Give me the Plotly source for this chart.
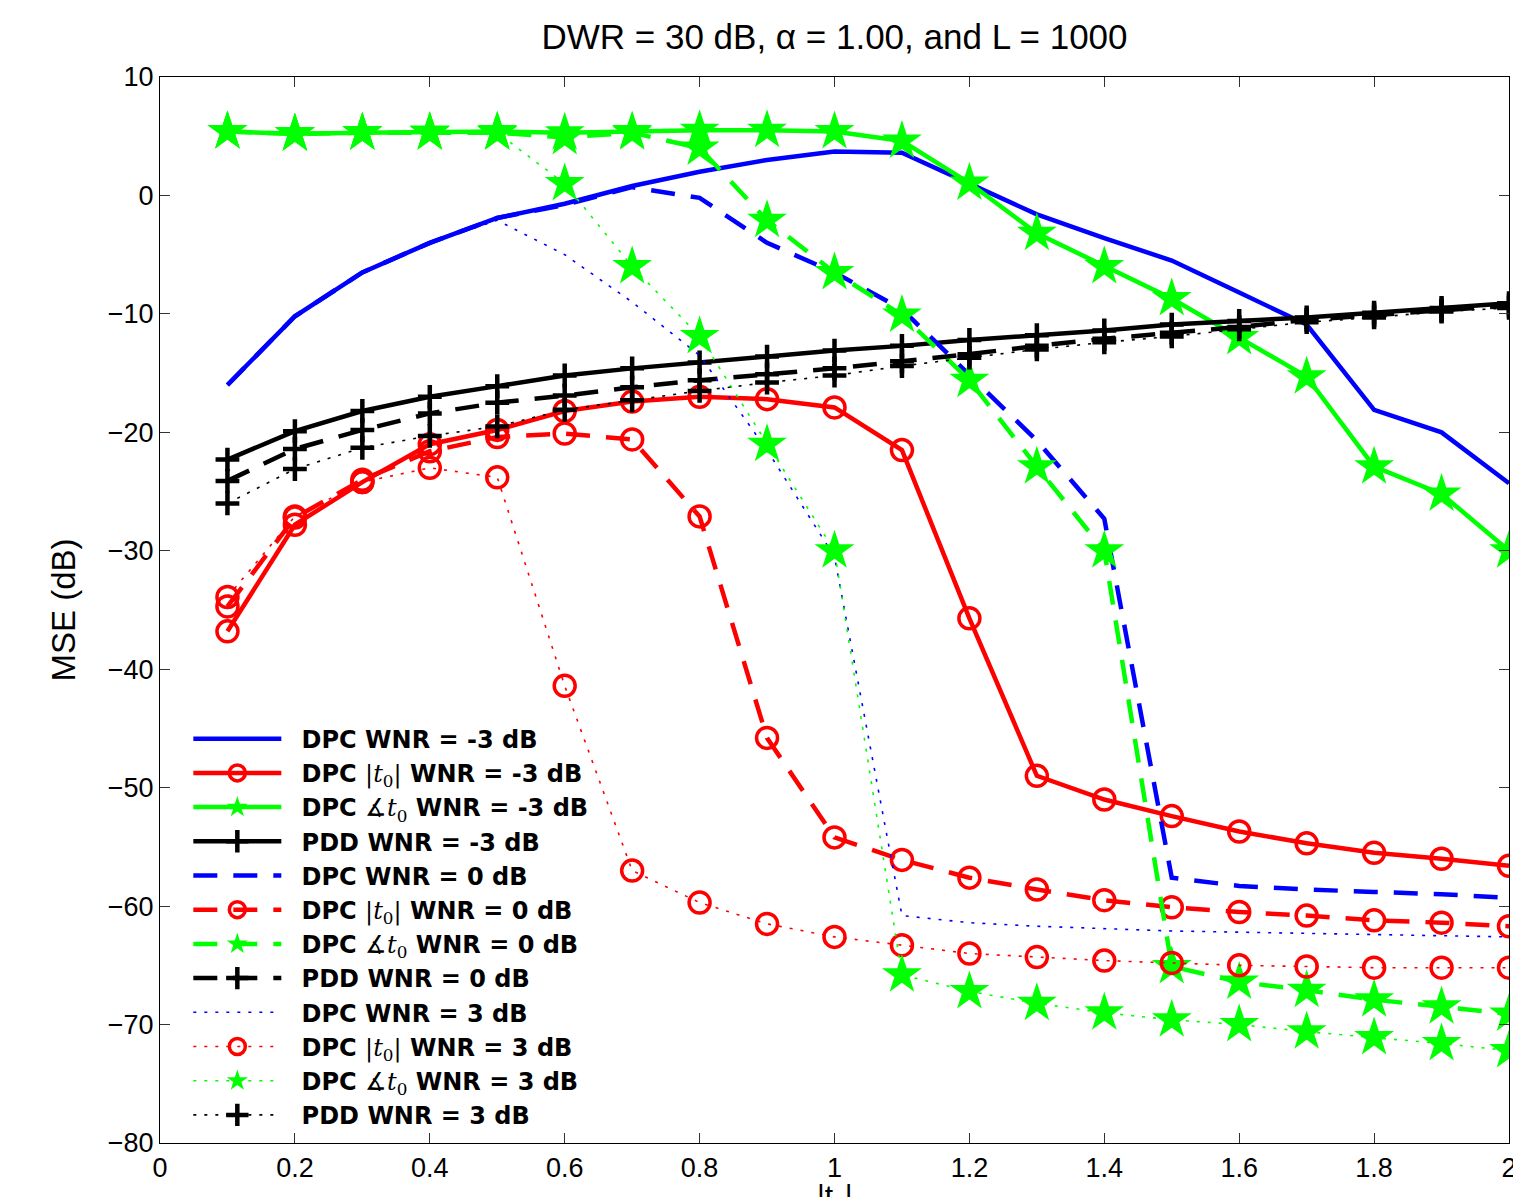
import plotly.graph_objects as go

x = [0.1, 0.2, 0.3, 0.4, 0.5, 0.6, 0.7, 0.8, 0.9, 1.0,
     1.1, 1.2, 1.3, 1.4, 1.5, 1.6, 1.7, 1.8, 1.9, 2.0]

# WNR = -3 dB
dpc_m3 = [-16.0, -10.2, -6.5, -4.0, -1.9, -0.7, 0.8, 2.0, 3.0, 3.7,
          3.6, 1.05, -1.6, -3.6, -5.5, -8.2, -10.9, -18.1, -20.0, -24.3]
abs_m3 = [-36.8, -27.8, -24.2, -21.0, -19.8, -18.2, -17.4, -17.0, -17.2, -17.9,
          -21.5, -35.7, -49.0, -51.0, -52.4, -53.7, -54.7, -55.5, -56.0, -56.6]
ang_m3 = [5.4, 5.2, 5.3, 5.35, 5.4, 5.3, 5.4, 5.5, 5.5, 5.4,
          4.6, 1.05, -3.2, -6.0, -8.7, -12.0, -15.3, -22.9, -25.2, -30.0]
pdd_m3 = [-22.3, -19.9, -18.2, -17.0, -16.1, -15.2, -14.6, -14.1, -13.6, -13.1,
          -12.7, -12.2, -11.8, -11.4, -10.9, -10.6, -10.3, -9.9, -9.5, -9.1]

# WNR = 0 dB
dpc_0 = [-16.0, -10.2, -6.5, -4.0, -1.9, -0.8, 0.7, -0.2, -4.0, -6.5,
         -9.6, -15.2, -20.7, -27.3, -57.6, -58.3, -58.6, -58.8, -59.0, -59.3]
abs_0 = [-34.7, -27.2, -24.0, -21.6, -20.4, -20.1, -20.6, -27.1, -45.8, -54.2,
         -56.1, -57.6, -58.6, -59.5, -60.1, -60.5, -60.8, -61.2, -61.4, -61.7]
ang_0 = [5.4, 5.2, 5.3, 5.3, 5.3, 4.9, 5.3, 4.0, -2.1, -6.5,
         -10.1, -15.6, -22.9, -30.0, -65.1, -66.4, -67.1, -67.9, -68.5, -69.1]
pdd_0 = [-24.1, -21.4, -19.8, -18.4, -17.5, -16.9, -16.2, -15.6, -15.1, -14.6,
         -14.0, -13.4, -12.7, -12.1, -11.6, -11.1, -10.5, -10.1, -9.7, -9.3]

# WNR = 3 dB
dpc_3 = [-16.0, -10.2, -6.5, -4.0, -2.1, -5.0, -9.0, -13.5, -21.5, -30.5,
         -60.8, -61.4, -61.7, -61.9, -62.1, -62.2, -62.3, -62.4, -62.5, -62.6]
abs_3 = [-33.9, -27.1, -24.2, -23.0, -23.8, -41.4, -57.0, -59.7, -61.5, -62.6,
         -63.3, -64.0, -64.3, -64.6, -64.8, -65.0, -65.1, -65.2, -65.2, -65.2]
ang_3 = [5.4, 5.2, 5.3, 5.3, 5.3, 1.0, -6.0, -11.9, -21.0, -30.0,
         -65.8, -67.2, -68.2, -69.0, -69.6, -70.0, -70.6, -71.1, -71.6, -72.2]
pdd_3 = [-26.0, -23.1, -21.3, -20.3, -19.5, -18.1, -17.3, -16.5, -15.8, -15.2,
         -14.4, -13.7, -13.0, -12.4, -11.9, -11.3, -10.7, -10.3, -9.8, -9.5]

x_ticks = [0, 0.2, 0.4, 0.6, 0.8, 1, 1.2, 1.4, 1.6, 1.8, 2]
x_ticklabels = ["0", "0.2", "0.4", "0.6", "0.8", "1", "1.2", "1.4", "1.6", "1.8", "2"]
y_ticks = [10, 0, -10, -20, -30, -40, -50, -60, -70, -80]

BLUE, RED, GREEN, BLACK = "rgb(0,0,255)", "rgb(255,0,0)", "rgb(0,255,0)", "rgb(0,0,0)"

MATH = "<span style='font-family:DejaVu Serif;font-weight:normal'>"
ABS = MATH + "|<i>t</i><sub>0</sub>|</span>"
ANG = MATH + "\u2221<i>t</i><sub>0</sub></span>"
EQ = "\u00a0=\u00a0"
PAD = "\u00a0\u00a0"

dash_style = {"solid": ("solid", 4.5), "dash": ("24px,16px", 4.5), "dot": ("3px,8px", 1.6)}

series = [
    ("DPC WNR" + EQ + "-3 dB", dpc_m3, BLUE, "solid", None),
    ("DPC " + ABS + " WNR" + EQ + "-3 dB", abs_m3, RED, "solid", "circle"),
    ("DPC " + ANG + " WNR" + EQ + "-3 dB", ang_m3, GREEN, "solid", "star"),
    ("PDD WNR" + EQ + "-3 dB", pdd_m3, BLACK, "solid", "plus"),
    ("DPC WNR" + EQ + "0 dB", dpc_0, BLUE, "dash", None),
    ("DPC " + ABS + " WNR" + EQ + "0 dB", abs_0, RED, "dash", "circle"),
    ("DPC " + ANG + " WNR" + EQ + "0 dB", ang_0, GREEN, "dash", "star"),
    ("PDD WNR" + EQ + "0 dB", pdd_0, BLACK, "dash", "plus"),
    ("DPC WNR" + EQ + "3 dB", dpc_3, BLUE, "dot", None),
    ("DPC " + ABS + " WNR" + EQ + "3 dB", abs_3, RED, "dot", "circle"),
    ("DPC " + ANG + " WNR" + EQ + "3 dB", ang_3, GREEN, "dot", "star"),
    ("PDD WNR" + EQ + "3 dB", pdd_3, BLACK, "dot", "plus"),
]

fig = go.Figure()
for name, ys, color, ds, mk in series:
    dash, width = dash_style[ds]
    kw = dict(x=x, y=ys, name=PAD + "<b>" + name + "</b>",
              line=dict(color=color, width=width, dash=dash))
    if mk is None:
        kw["mode"] = "lines"
    else:
        kw["mode"] = "lines+markers"
        if mk == "circle":
            kw["marker"] = dict(symbol="circle-open", size=21, color=color,
                                line=dict(width=3.5, color=color))
        elif mk == "star":
            kw["marker"] = dict(symbol="star", size=30, color=color,
                                line=dict(width=0))
        else:
            kw["marker"] = dict(symbol="cross-thin-open", size=17, color=color,
                                line=dict(width=4.5, color=color))
    fig.add_trace(go.Scatter(**kw))

axis_common = dict(showline=True, linecolor="black", linewidth=1.2, mirror="ticks",
                   ticks="inside", ticklen=10, tickwidth=1.2, tickcolor="#333",
                   showgrid=False, zeroline=False,
                   tickfont=dict(family="Liberation Sans, Arial", size=27, color="black"),
                   automargin=False)

fig.update_layout(
    width=1513, height=1189,
    paper_bgcolor="white", plot_bgcolor="white",
    margin=dict(l=152, r=12, t=69, b=54),
    title=dict(text="DWR = 30 dB, \u03b1 = 1.00, and L = 1000",
               xref="paper", x=0.5, xanchor="center", y=0.9756, yanchor="middle",
               font=dict(family="Liberation Sans, Arial", size=35, color="black")),
    xaxis=dict(range=[0, 2], tickvals=x_ticks, ticktext=x_ticklabels, **axis_common),
    yaxis=dict(range=[-80, 10], tickvals=y_ticks,
               title=dict(text="MSE (dB)", standoff=22,
                          font=dict(family="Liberation Sans, Arial", size=33, color="black")),
               **axis_common),
    legend=dict(x=0.021, y=0.40, xanchor="left", yanchor="top",
                bgcolor="rgba(0,0,0,0)", borderwidth=0,
                itemwidth=88, tracegroupgap=0,
                font=dict(family="DejaVu Sans", size=24, color="black")),
    showlegend=True,
    annotations=[dict(text="|t<sub>0</sub>|", xref="paper", yref="paper",
                      x=0.5, y=-0.032, xanchor="center", yanchor="top",
                      showarrow=False,
                      font=dict(family="Liberation Sans, Arial", size=30, color="black"))],
)

fig.write_html("out.html")
